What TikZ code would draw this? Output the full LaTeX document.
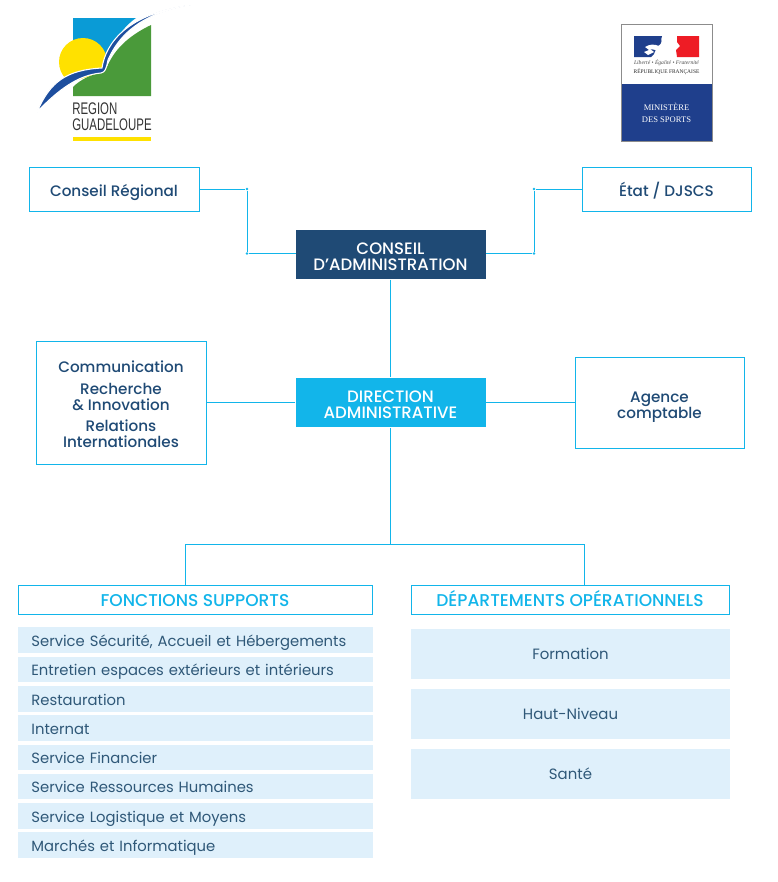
\documentclass[tikz,border=0pt]{standalone}
\usepackage{fontspec}
\setmainfont{Poppins Medium}
\newfontfamily\barfont{Poppins}
\newfontfamily\logofont{Liberation Sans}
\newfontfamily\minfont{Liberation Serif}
\usepackage{tikz}
\definecolor{navy}{HTML}{1F4A75}
\definecolor{sky}{HTML}{12B5EA}
\definecolor{pale}{HTML}{DFF0FB}
\definecolor{bartext}{HTML}{2F5878}
\definecolor{gseablue}{HTML}{0A9BD6}
\definecolor{gsegreen}{HTML}{4A9A3A}
\definecolor{gsesun}{HTML}{FFE100}
\definecolor{gseswoosh}{HTML}{1D4E9E}
\definecolor{minblue}{HTML}{1F3F8C}
\definecolor{minred}{HTML}{EE1C25}
\newcommand{\topgap}[1]{\rule{0pt}{#1}}

\begin{document}
\begin{tikzpicture}[x=.75pt,y=-.75pt,
  line width=.6pt,
  link/.style={draw=sky},
  joint/.style={circle,fill=sky,inner sep=0pt,minimum size=2.2pt},
  white box/.style={rectangle,draw=sky,fill=white,inner sep=0pt,align=center,text=navy,font=\fontsize{11.4}{12}\selectfont},
  dark box/.style={rectangle,fill=navy,text=white,inner sep=0pt,align=center,minimum width=142.5pt,minimum height=37pt,font=\fontsize{12.4}{12}\selectfont},
  head box/.style={white box,text=sky,minimum height=21.75pt,text height=10pt,text depth=0pt,font=\fontsize{12.8}{12}\selectfont},
  bar/.style={rectangle,fill=pale,text=bartext,anchor=west,inner sep=0pt,minimum height=19.2pt,minimum width=266.25pt,text width=246.75pt,text height=9pt,text depth=0pt,align=left,font=\barfont\fontsize{11.1}{12}\selectfont},
  big bar/.style={rectangle,fill=pale,text=bartext,inner sep=0pt,minimum width=239.25pt,minimum height=37.5pt,text height=8.5pt,text depth=0pt,font=\barfont\fontsize{11.2}{12}\selectfont}]
  \useasboundingbox (0,0) rectangle (778,882);

  % logo region
  \fill[gseablue] (73,18) -- (136,18) .. controls (122,28) and (112,42) .. (106,68) -- (73,88) -- cycle;
  \fill[gsesun] (83,62) circle (24);
  \fill[white] (36,112) -- (60,86) -- (102,72) -- (110,112) -- cycle;
  \fill[gsegreen] (151,25) .. controls (128,36) and (114,50) .. (107,67) .. controls (105,71) and (104,72) .. (100,73) .. controls (90,75) and (80,80) .. (73,87) -- (73,96) -- (151,96) -- cycle;
  \fill[gseswoosh,draw=white,line width=.8pt] (37,112) .. controls (50,82) and (66,70) .. (102,68) .. controls (106,42) and (128,14) .. (190,5)
    .. controls (150,12) and (122,28) .. (108,60) .. controls (106,70) and (105,72) .. (101,73) .. controls (78,75) and (58,90) .. (37,112) -- cycle;
  \node[anchor=west,inner sep=0pt,xscale=.68,font=\logofont\fontsize{12.6}{12}\selectfont,text=black!80] (regiontxt) at (72,109) {REGION};
  \node[anchor=west,inner sep=0pt,xscale=.68,font=\logofont\fontsize{12.6}{12}\selectfont,text=black!80] (guadetxt) at (72,124.5) {GUADELOUPE};
  \fill[gsesun] (73,137) rectangle (151,141);

  % logo ministere
  \draw[black!45,fill=white] (621,24) rectangle (712,141);
  \fill[minblue] (621.5,84) rectangle (711.5,140.5);
  \fill[minblue] (634,36) -- (662,36) .. controls (660,40) and (664,42) .. (658,46) .. controls (654,50) and (656,54) .. (651,57) -- (634,57) -- cycle;
  \fill[minred] (677,36) -- (699,36) -- (699,57) -- (677,57) -- (676,50) -- (680,46) -- (677,42) -- cycle;
  \fill[white] (645,47) .. controls (650,44) and (654,44) .. (659,46) -- (656,50) -- (650,49) -- (654,52) -- (648,55) -- (644,52) -- (649,50) -- cycle;
  \node[inner sep=0pt,text=black!70,font=\minfont\itshape\fontsize{4.2}{5}\selectfont] (devise) at (666.5,62.5) {Liberté • Égalité • Fraternité};
  \node[inner sep=0pt,text=black!85,font=\minfont\fontsize{4.1}{5}\selectfont] (repfr) at (666.5,72) {RÉPUBLIQUE FRANÇAISE};
  \node[inner sep=0pt,text=white,align=center,font=\minfont\fontsize{6.4}{8.7}\selectfont] (minsport) at (666.5,113) {MINISTÈRE\\DES SPORTS};

  % boites
  \node[white box,minimum width=127.5pt,minimum height=33pt,text height=11pt,text depth=0pt] (region) at (114,189) {Conseil Régional};
  \node[white box,minimum width=126.75pt,minimum height=33pt,text height=11pt,text depth=0pt] (etat) at (666.5,189) {État / DJSCS};
  \node[dark box] (conseil) at (390.5,254.5) {\topgap{11.7pt}CONSEIL\\D'ADMINISTRATION};
  \node[dark box,fill=sky] (direction) at (390.5,402.5) {\topgap{11.7pt}DIRECTION\\ADMINISTRATIVE};
  \node[white box,minimum width=127.5pt,minimum height=92.25pt] (comm) at (121,402.5) {\topgap{11.5pt}Communication\\[4pt]Recherche\\\& Innovation\\[4pt]Relations\\Internationales};
  \node[white box,minimum width=126.75pt,minimum height=68.25pt] (agence) at (659.5,402.5) {\topgap{14.4pt}Agence\\comptable};
  \node[head box,minimum width=265.5pt] (supports) at (195,599.5) {FONCTIONS SUPPORTS};
  \node[head box,minimum width=238.5pt] (depts) at (570,599.5) {DÉPARTEMENTS OPÉRATIONNELS};

  \node[bar] (s1) at (18,640) {Service Sécurité, Accueil et Hébergements};
  \node[bar] (s2) at (18,669.5) {Entretien espaces extérieurs et intérieurs};
  \node[bar] (s3) at (18,699) {Restauration};
  \node[bar] (s4) at (18,728) {Internat};
  \node[bar] (s5) at (18,757.5) {Service Financier};
  \node[bar] (s6) at (18,786.5) {Service Ressources Humaines};
  \node[bar] (s7) at (18,816) {Service Logistique et Moyens};
  \node[bar] (s8) at (18,845) {Marchés et Informatique};

  \node[big bar] (d1) at (570.5,653.5) {Formation};
  \node[big bar] (d2) at (570.5,713.5) {Haut-Niveau};
  \node[big bar] (d3) at (570.5,773.5) {Santé};

  % liaisons
  \node[joint] (j1) at (247,189) {};
  \node[joint] (j2) at (247,253.5) {};
  \node[joint] (j3) at (534,189) {};
  \node[joint] (j4) at (534,253.5) {};
  \coordinate (j5) at (390.5,544);
  \coordinate (j6) at (185,544);
  \coordinate (j7) at (584,544);
  \coordinate (t1) at (185,585);
  \coordinate (t2) at (584,585);
  \coordinate (c1) at (296,253.5);
  \coordinate (c2) at (486,253.5);

  \path[link]
    (region.east) edge (j1)
    (j1) edge (j2)
    (j2) edge (c1)
    (etat.west) edge (j3)
    (j3) edge (j4)
    (j4) edge (c2)
    (conseil.south) edge (direction.north)
    (direction.west) edge (comm.east)
    (direction.east) edge (agence.west)
    (direction.south) edge (j5)
    (j6) edge (j7)
    (j6) edge (t1)
    (j7) edge (t2);
\end{tikzpicture}
\end{document}
